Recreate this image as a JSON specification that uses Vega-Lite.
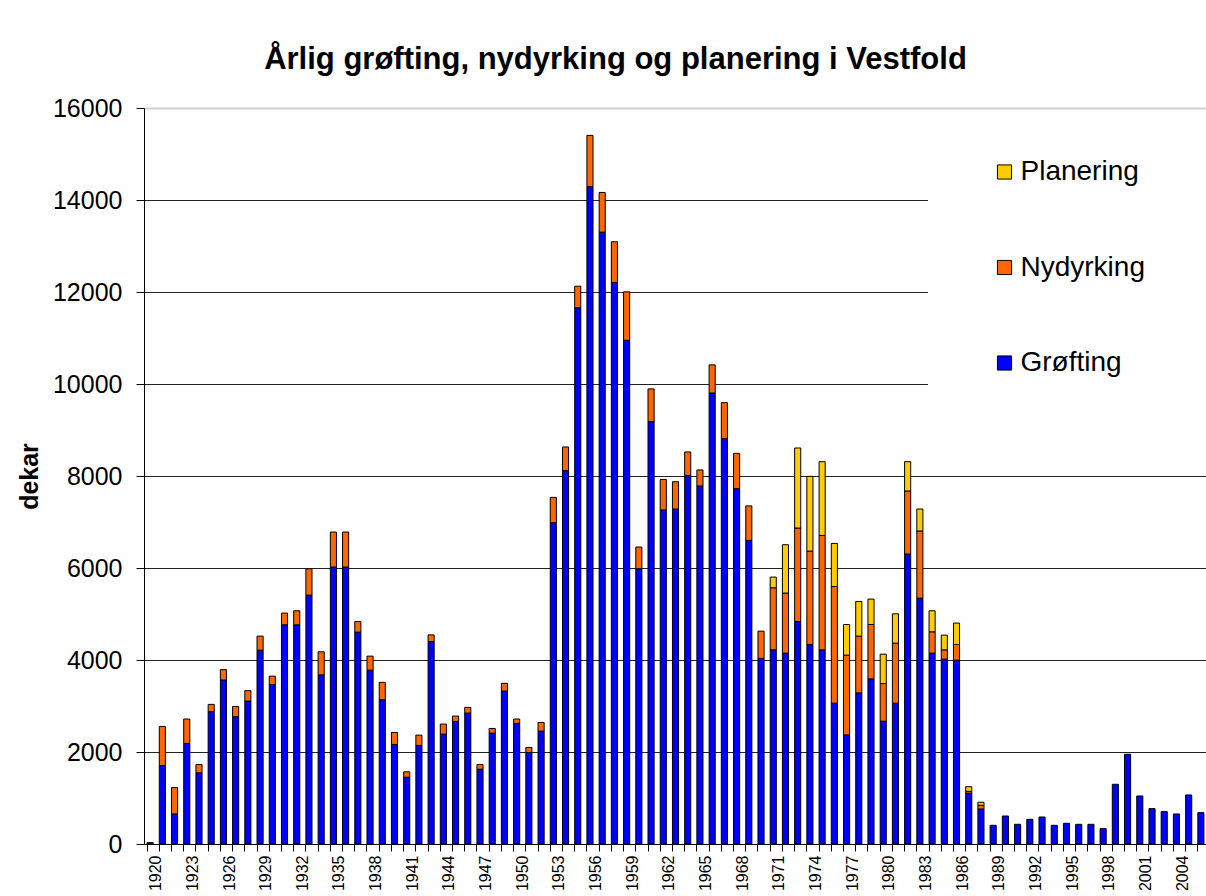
{
  "$schema": "https://vega.github.io/schema/vega-lite/v6.json",
  "width": 1063,
  "height": 736,
  "autosize": {"type": "none"},
  "padding": {"left": 144, "top": 108, "right": 0, "bottom": 52},
  "background": "white",
  "title": {
    "text": "Årlig grøfting, nydyrking og planering i Vestfold",
    "font": "Liberation Sans",
    "fontSize": 31,
    "fontWeight": "bold",
    "color": "black",
    "anchor": "middle",
    "frame": "group",
    "dx": -60,
    "offset": 20
  },
  "data": {
    "values": [
      {"year": 1920, "Grøfting": 30, "Nydyrking": 0, "Planering": 0},
      {"year": 1921, "Grøfting": 1706, "Nydyrking": 850, "Planering": 0},
      {"year": 1922, "Grøfting": 654, "Nydyrking": 573, "Planering": 0},
      {"year": 1923, "Grøfting": 2186, "Nydyrking": 531, "Planering": 0},
      {"year": 1924, "Grøfting": 1547, "Nydyrking": 181, "Planering": 0},
      {"year": 1925, "Grøfting": 2876, "Nydyrking": 159, "Planering": 0},
      {"year": 1926, "Grøfting": 3566, "Nydyrking": 225, "Planering": 0},
      {"year": 1927, "Grøfting": 2767, "Nydyrking": 224, "Planering": 0},
      {"year": 1928, "Grøfting": 3108, "Nydyrking": 225, "Planering": 0},
      {"year": 1929, "Grøfting": 4214, "Nydyrking": 305, "Planering": 0},
      {"year": 1930, "Grøfting": 3466, "Nydyrking": 183, "Planering": 0},
      {"year": 1931, "Grøfting": 4765, "Nydyrking": 255, "Planering": 0},
      {"year": 1932, "Grøfting": 4765, "Nydyrking": 305, "Planering": 0},
      {"year": 1933, "Grøfting": 5411, "Nydyrking": 572, "Planering": 0},
      {"year": 1934, "Grøfting": 3677, "Nydyrking": 501, "Planering": 0},
      {"year": 1935, "Grøfting": 6021, "Nydyrking": 761, "Planering": 0},
      {"year": 1936, "Grøfting": 6021, "Nydyrking": 761, "Planering": 0},
      {"year": 1937, "Grøfting": 4606, "Nydyrking": 231, "Planering": 0},
      {"year": 1938, "Grøfting": 3779, "Nydyrking": 305, "Planering": 0},
      {"year": 1939, "Grøfting": 3135, "Nydyrking": 379, "Planering": 0},
      {"year": 1940, "Grøfting": 2164, "Nydyrking": 261, "Planering": 0},
      {"year": 1941, "Grøfting": 1452, "Nydyrking": 117, "Planering": 0},
      {"year": 1942, "Grøfting": 2143, "Nydyrking": 224, "Planering": 0},
      {"year": 1943, "Grøfting": 4401, "Nydyrking": 145, "Planering": 0},
      {"year": 1944, "Grøfting": 2389, "Nydyrking": 218, "Planering": 0},
      {"year": 1945, "Grøfting": 2665, "Nydyrking": 116, "Planering": 0},
      {"year": 1946, "Grøfting": 2846, "Nydyrking": 124, "Planering": 0},
      {"year": 1947, "Grøfting": 1626, "Nydyrking": 102, "Planering": 0},
      {"year": 1948, "Grøfting": 2411, "Nydyrking": 101, "Planering": 0},
      {"year": 1949, "Grøfting": 3326, "Nydyrking": 167, "Planering": 0},
      {"year": 1950, "Grøfting": 2622, "Nydyrking": 95, "Planering": 0},
      {"year": 1951, "Grøfting": 1990, "Nydyrking": 109, "Planering": 0},
      {"year": 1952, "Grøfting": 2455, "Nydyrking": 188, "Planering": 0},
      {"year": 1953, "Grøfting": 6984, "Nydyrking": 551, "Planering": 0},
      {"year": 1954, "Grøfting": 8116, "Nydyrking": 515, "Planering": 0},
      {"year": 1955, "Grøfting": 11656, "Nydyrking": 470, "Planering": 0},
      {"year": 1956, "Grøfting": 14289, "Nydyrking": 1116, "Planering": 0},
      {"year": 1957, "Grøfting": 13301, "Nydyrking": 863, "Planering": 0},
      {"year": 1958, "Grøfting": 12206, "Nydyrking": 886, "Planering": 0},
      {"year": 1959, "Grøfting": 10951, "Nydyrking": 1053, "Planering": 0},
      {"year": 1960, "Grøfting": 5983, "Nydyrking": 473, "Planering": 0},
      {"year": 1961, "Grøfting": 9182, "Nydyrking": 711, "Planering": 0},
      {"year": 1962, "Grøfting": 7261, "Nydyrking": 665, "Planering": 0},
      {"year": 1963, "Grøfting": 7282, "Nydyrking": 594, "Planering": 0},
      {"year": 1964, "Grøfting": 8013, "Nydyrking": 510, "Planering": 0},
      {"year": 1965, "Grøfting": 7783, "Nydyrking": 348, "Planering": 0},
      {"year": 1966, "Grøfting": 9806, "Nydyrking": 610, "Planering": 0},
      {"year": 1967, "Grøfting": 8812, "Nydyrking": 783, "Planering": 0},
      {"year": 1968, "Grøfting": 7724, "Nydyrking": 768, "Planering": 0},
      {"year": 1969, "Grøfting": 6600, "Nydyrking": 750, "Planering": 0},
      {"year": 1970, "Grøfting": 4035, "Nydyrking": 592, "Planering": 0},
      {"year": 1971, "Grøfting": 4221, "Nydyrking": 1349, "Planering": 232},
      {"year": 1972, "Grøfting": 4149, "Nydyrking": 1306, "Planering": 1051},
      {"year": 1973, "Grøfting": 4837, "Nydyrking": 2032, "Planering": 1740},
      {"year": 1974, "Grøfting": 4337, "Nydyrking": 2031, "Planering": 1624},
      {"year": 1975, "Grøfting": 4221, "Nydyrking": 2487, "Planering": 1603},
      {"year": 1976, "Grøfting": 3061, "Nydyrking": 2537, "Planering": 936},
      {"year": 1977, "Grøfting": 2372, "Nydyrking": 1734, "Planering": 666},
      {"year": 1978, "Grøfting": 3285, "Nydyrking": 1234, "Planering": 753},
      {"year": 1979, "Grøfting": 3590, "Nydyrking": 1182, "Planering": 552},
      {"year": 1980, "Grøfting": 2669, "Nydyrking": 819, "Planering": 639},
      {"year": 1981, "Grøfting": 3061, "Nydyrking": 1306, "Planering": 637},
      {"year": 1982, "Grøfting": 6303, "Nydyrking": 1371, "Planering": 637},
      {"year": 1983, "Grøfting": 5346, "Nydyrking": 1458, "Planering": 478},
      {"year": 1984, "Grøfting": 4149, "Nydyrking": 464, "Planering": 457},
      {"year": 1985, "Grøfting": 4019, "Nydyrking": 202, "Planering": 320},
      {"year": 1986, "Grøfting": 3997, "Nydyrking": 340, "Planering": 465},
      {"year": 1987, "Grøfting": 1105, "Nydyrking": 40, "Planering": 100},
      {"year": 1988, "Grøfting": 762, "Nydyrking": 80, "Planering": 65},
      {"year": 1989, "Grøfting": 406, "Nydyrking": 0, "Planering": 0},
      {"year": 1990, "Grøfting": 609, "Nydyrking": 0, "Planering": 0},
      {"year": 1991, "Grøfting": 428, "Nydyrking": 0, "Planering": 0},
      {"year": 1992, "Grøfting": 537, "Nydyrking": 0, "Planering": 0},
      {"year": 1993, "Grøfting": 587, "Nydyrking": 0, "Planering": 0},
      {"year": 1994, "Grøfting": 406, "Nydyrking": 0, "Planering": 0},
      {"year": 1995, "Grøfting": 450, "Nydyrking": 0, "Planering": 0},
      {"year": 1996, "Grøfting": 428, "Nydyrking": 0, "Planering": 0},
      {"year": 1997, "Grøfting": 428, "Nydyrking": 0, "Planering": 0},
      {"year": 1998, "Grøfting": 334, "Nydyrking": 0, "Planering": 0},
      {"year": 1999, "Grøfting": 1298, "Nydyrking": 0, "Planering": 0},
      {"year": 2000, "Grøfting": 1951, "Nydyrking": 0, "Planering": 0},
      {"year": 2001, "Grøfting": 1044, "Nydyrking": 0, "Planering": 0},
      {"year": 2002, "Grøfting": 769, "Nydyrking": 0, "Planering": 0},
      {"year": 2003, "Grøfting": 704, "Nydyrking": 0, "Planering": 0},
      {"year": 2004, "Grøfting": 653, "Nydyrking": 0, "Planering": 0},
      {"year": 2005, "Grøfting": 1066, "Nydyrking": 0, "Planering": 0},
      {"year": 2006, "Grøfting": 682, "Nydyrking": 0, "Planering": 0}
    ]
  },
  "transform": [
    {"fold": ["Grøfting", "Nydyrking", "Planering"], "as": ["type", "dekar"]},
    {"filter": "datum.dekar > 0"}
  ],
  "mark": {"type": "bar", "stroke": "black", "strokeWidth": 1},
  "encoding": {
    "x": {
      "field": "year",
      "type": "ordinal",
      "scale": {"paddingInner": 0.5, "paddingOuter": 0.25},
      "axis": {
        "title": null,
        "labelAngle": -90,
        "labelFont": "Liberation Sans",
        "labelFontSize": 16,
        "labelColor": "black",
        "bandPosition": 0,
        "labelOffset": 6.1,
        "tickSize": 7,
        "tickColor": "black",
        "domainColor": "black",
        "labelPadding": 4,
        "labelOverlap": false,
        "labelExpr": "(datum.value - 1920) % 3 == 0 ? datum.label : ''"
      }
    },
    "y": {
      "field": "dekar",
      "type": "quantitative",
      "stack": "zero",
      "scale": {"domain": [0, 16000], "nice": false},
      "axis": {
        "title": "dekar",
        "titleFont": "Liberation Sans",
        "titleFontSize": 25,
        "titleFontWeight": "bold",
        "titleColor": "black",
        "titlePadding": 10,
        "values": [0, 2000, 4000, 6000, 8000, 10000, 12000, 14000, 16000],
        "format": "d",
        "labelFont": "Liberation Sans",
        "labelFontSize": 25,
        "labelColor": "black",
        "labelPadding": 14,
        "tickSize": 8,
        "tickColor": "black",
        "domainColor": "black",
        "grid": true,
        "gridColor": {"condition": {"test": "datum.value == 16000", "value": "#d0d0d0"}, "value": "#222222"},
        "gridWidth": {"condition": {"test": "datum.value == 16000", "value": 2}, "value": 1}
      }
    },
    "color": {
      "field": "type",
      "type": "nominal",
      "scale": {"domain": ["Planering", "Nydyrking", "Grøfting"], "range": ["#FFCC00", "#FF6600", "#0000FF"]},
      "legend": {
        "title": " ",
        "titleOrient": "right",
        "titlePadding": 40,
        "titleFontSize": 10,
        "orient": "none",
        "legendX": 784,
        "legendY": 2,
        "fillColor": "white",
        "padding": 48,
        "labelFont": "Liberation Sans",
        "labelFontSize": 28,
        "labelColor": "black",
        "labelLimit": 300,
        "symbolType": "square",
        "symbolSize": 200,
        "symbolStrokeColor": "black",
        "symbolStrokeWidth": 1,
        "symbolOpacity": 1,
        "rowPadding": 67.5,
        "symbolOffset": 14.5,
        "labelOffset": 2
      }
    },
    "order": {"field": "type", "sort": "ascending"}
  },
  "config": {"view": {"stroke": null}}
}
